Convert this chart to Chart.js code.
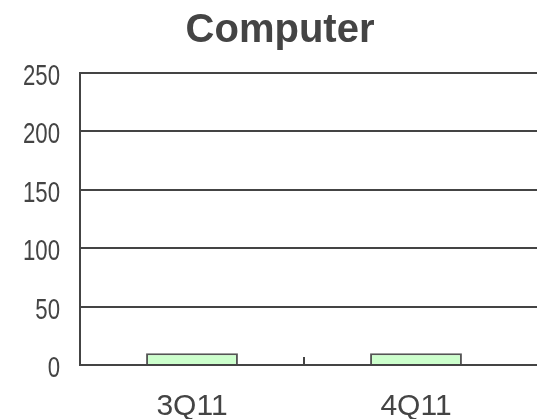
<!DOCTYPE html>
<html>
<head>
<meta charset="utf-8">
<script src="https://cdn.jsdelivr.net/npm/chart.js@4"></script>
<style>
  html, body { margin: 0; padding: 0; background: #fff; }
  #wrap { width: 537px; height: 419px; }
</style>
</head>
<body>
<div id="wrap"><canvas id="computerChart"></canvas></div>
<script>
const categories = ["3Q11", "4Q11"];
const computerValues = [10, 10];
const yTicks = [0, 50, 100, 150, 200, 250];

const lineColor = "#444444";
const textColor = "#444444";
const fontFamily = "Liberation Sans, Arial, sans-serif";

// short tick marks between categories, pointing up into the plot
const innerTicks = {
  id: "innerTicks",
  afterDatasetsDraw(chart) {
    const { ctx, chartArea, scales } = chart;
    const x = scales.x;
    ctx.save();
    ctx.strokeStyle = lineColor;
    ctx.lineWidth = 2;
    for (let i = 1; i < categories.length; i++) {
      const px = Math.round((x.getPixelForValue(i - 1) + x.getPixelForValue(i)) / 2);
      ctx.beginPath();
      ctx.moveTo(px, chartArea.bottom);
      ctx.lineTo(px, chartArea.bottom - 8);
      ctx.stroke();
    }
    ctx.restore();
  },
};

// y labels in a condensed face: squeeze the text horizontally
const narrowYLabels = {
  id: "narrowYLabels",
  afterDraw(chart) {
    const { ctx, chartArea, scales } = chart;
    const y = scales.y;
    const right = chartArea.left - 20;
    ctx.save();
    ctx.fillStyle = textColor;
    ctx.font = "29px " + fontFamily;
    ctx.textAlign = "right";
    ctx.textBaseline = "middle";
    ctx.translate(right, 0);
    ctx.scale(0.765, 1);
    yTicks.forEach((v) => {
      ctx.fillText(String(v), 0, y.getPixelForValue(v) + 4);
    });
    ctx.restore();
  },
};

const fixedTicks = (scale) => {
  scale.ticks = yTicks.map((v) => ({ value: v }));
};

new Chart(document.getElementById("computerChart"), {
  type: "bar",
  data: {
    labels: categories,
    datasets: [
      {
        label: "Computer",
        data: computerValues,
        backgroundColor: "#ccffcc",
        borderColor: "#555555",
        borderWidth: 2,
        borderSkipped: "bottom",
        categoryPercentage: 1,
        barPercentage: 0.41,
      },
    ],
  },
  options: {
    responsive: true,
    maintainAspectRatio: false,
    animation: false,
    layout: { padding: { left: 23, right: 0, top: 0, bottom: 0 } },
    plugins: {
      legend: { display: false },
      tooltip: { enabled: false },
      title: {
        display: true,
        text: "Computer",
        color: textColor,
        font: { family: fontFamily, size: 40, weight: "bold" },
        padding: { top: 7, bottom: 18 },
      },
    },
    scales: {
      y: {
        min: 0,
        max: 250,
        afterBuildTicks: fixedTicks,
        afterFit: (scale) => { scale.width = 57; },
        border: { display: true, color: lineColor, width: 2 },
        grid: { color: lineColor, lineWidth: 2, drawTicks: false },
        ticks: { display: false },
      },
      // right-hand stubs: gridlines run a little past the plot edge
      yRight: {
        position: "right",
        min: 0,
        max: 250,
        afterBuildTicks: fixedTicks,
        afterFit: (scale) => { scale.width = 9; },
        border: { display: false },
        grid: { drawOnChartArea: false, color: lineColor, lineWidth: 2, tickLength: 9 },
        ticks: { display: false },
      },
      x: {
        afterFit: (scale) => { scale.height = 54; },
        border: { display: true, color: lineColor, width: 2 },
        grid: { display: false },
        ticks: {
          color: textColor,
          padding: 16,
          font: { family: fontFamily, size: 30 },
        },
      },
    },
  },
  plugins: [innerTicks, narrowYLabels],
});
</script>
</body>
</html>
